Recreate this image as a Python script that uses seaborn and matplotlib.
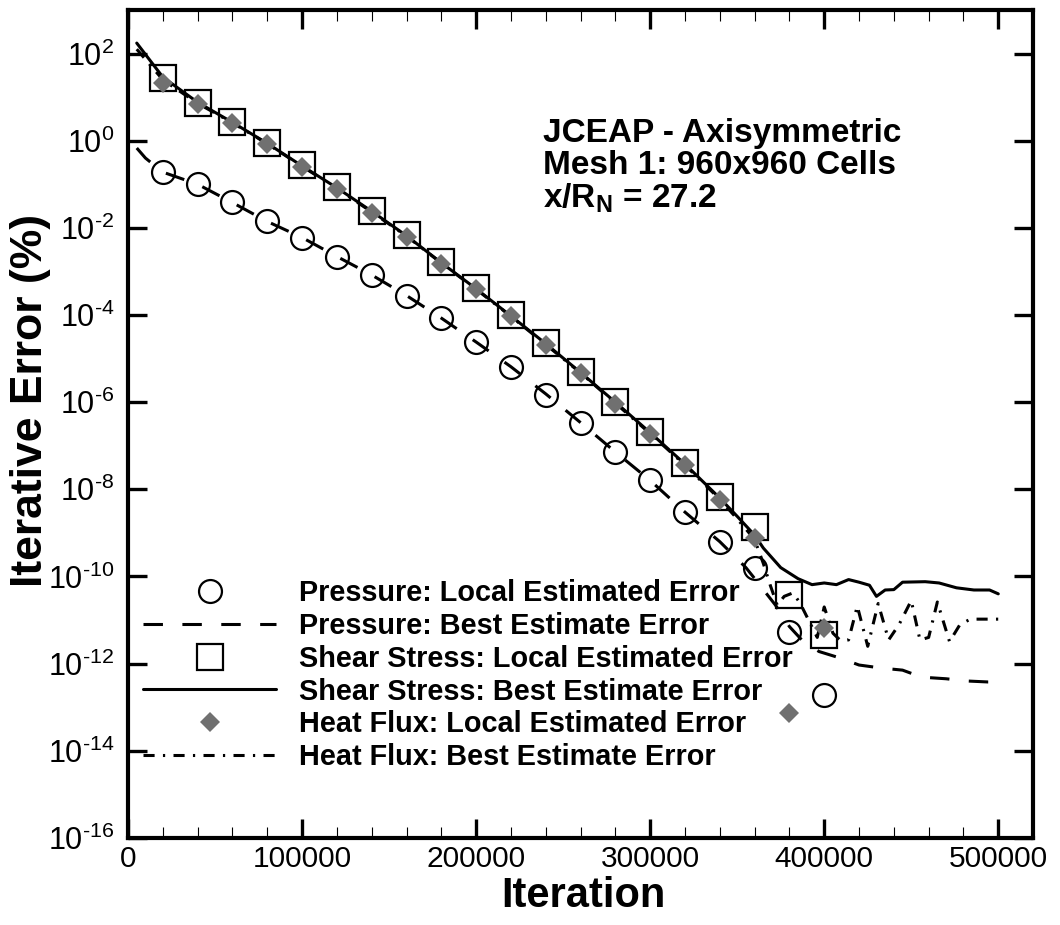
import matplotlib
matplotlib.use("Agg")
import matplotlib.pyplot as plt
import seaborn as sns
from matplotlib.ticker import FixedLocator, MultipleLocator, NullLocator

# ---------------- data ----------------
iter_local = [20000, 40000, 60000, 80000, 100000, 120000, 140000, 160000, 180000, 200000,
              220000, 240000, 260000, 280000, 300000, 320000, 340000, 360000, 380000, 400000]

pressure_local = [1.9e-1, 1.0e-1, 3.9e-2, 1.45e-2, 6.0e-3, 2.2e-3, 8.3e-4, 2.8e-4, 8.5e-5, 2.4e-5,
                  6.3e-6, 1.5e-6, 3.4e-7, 7.2e-8, 1.6e-8, 3.0e-9, 6.2e-10, 1.6e-10, 5.2e-12, 1.9e-13]

shear_local = [27.5, 7.4, 2.7, 0.89, 0.275, 0.087, 0.024, 6.9e-3, 1.66e-3, 4.2e-4,
               1.0e-4, 2.3e-5, 4.9e-6, 1.0e-6, 2.1e-7, 4.0e-8, 6.6e-9, 1.35e-9, 3.8e-11, 4.6e-12]

heat_local = [21.0, 6.9, 2.5, 0.83, 0.25, 0.079, 0.022, 6.3e-3, 1.5e-3, 4.0e-4,
              9.3e-5, 2.1e-5, 4.6e-6, 9.3e-7, 1.9e-7, 3.6e-8, 5.8e-9, 7.6e-10, 7.4e-14, 6.6e-12]

iter_p_best = [5000, 10000, 20000, 40000, 60000, 80000, 100000, 120000, 140000, 160000, 180000,
               200000, 220000, 240000, 260000, 280000, 300000, 320000, 340000, 355000, 360000,
               365000, 372000, 380000, 388000, 397000, 409000, 420000, 433000, 445000, 456000,
               470000, 482000, 494000, 500000]
pressure_best = [0.68, 0.40, 0.19, 0.10, 0.038, 0.014, 6.0e-3, 2.2e-3, 8.3e-4, 2.8e-4, 8.5e-5,
                 2.4e-5, 6.5e-6, 1.55e-6, 3.4e-7, 7.2e-8, 1.6e-8, 3.0e-9, 6.3e-10, 1.6e-10, 9.0e-11,
                 5.0e-11, 2.2e-11, 7.1e-12, 3.2e-12, 1.9e-12, 1.35e-12, 9.3e-13, 7.9e-13, 7.1e-13, 4.9e-13,
                 4.5e-13, 4.0e-13, 3.8e-13, 3.8e-13]

iter_s_best = [5000, 20000, 40000, 60000, 80000, 100000, 120000, 140000, 160000, 180000,
               200000, 220000, 240000, 260000, 280000, 300000, 320000, 340000, 350000, 360000,
               365000, 375000, 385000, 393000, 400000, 407000, 414000, 420000, 426000, 430000,
               435000, 440000, 445000, 458000, 466000, 476000, 486000, 495000, 500000]
shear_best = [174.0, 28.8, 7.6, 2.63, 0.87, 0.263, 0.083, 0.024, 6.6e-3, 1.58e-3,
              4.0e-4, 9.5e-5, 2.2e-5, 4.8e-6, 1.0e-6, 2.0e-7, 3.8e-8, 6.3e-9, 2.4e-9, 8.9e-10,
              4.5e-10, 1.6e-10, 8.9e-11, 6.5e-11, 7.1e-11, 6.5e-11, 8.5e-11, 7.4e-11, 6.3e-11, 3.5e-11,
              4.9e-11, 5.0e-11, 7.4e-11, 7.6e-11, 7.1e-11, 5.5e-11, 4.9e-11, 4.9e-11, 4.0e-11]

iter_h_best = [5000, 20000, 40000, 60000, 80000, 100000, 120000, 140000, 160000, 180000,
               200000, 220000, 240000, 260000, 280000, 300000, 320000, 340000, 350000, 360000,
               365000, 369000, 373000, 377000, 382000, 386000, 391000, 396000, 400000, 405000,
               409000, 414000, 419000, 425000, 431000, 437000, 443000, 450000, 455000, 460000,
               465000, 472000, 478000, 484000, 500000]
heat_best = [126.0, 25.0, 7.2, 2.57, 0.85, 0.257, 0.081, 0.023, 6.5e-3, 1.55e-3,
             3.9e-4, 9.3e-5, 2.1e-5, 4.7e-6, 9.5e-7, 1.9e-7, 3.6e-8, 5.9e-9, 2.1e-9, 7.1e-10,
             2.0e-10, 6.3e-11, 2.2e-11, 3.5e-11, 4.2e-11, 2.5e-11, 1.0e-11, 4.0e-12, 2.0e-11, 5.0e-12,
             3.5e-12, 3.5e-12, 2.1e-11, 2.5e-12, 2.4e-11, 3.5e-12, 7.9e-12, 2.8e-11, 3.5e-12, 4.0e-12,
             2.6e-11, 3.2e-12, 7.9e-12, 1.05e-11, 1.05e-11]

xtick_values = [0, 100000, 200000, 300000, 400000, 500000]
xtick_labels = ["0", "100000", "200000", "300000", "400000", "500000"]
ytick_exponents = [-16, -14, -12, -10, -8, -6, -4, -2, 0, 2]

labels = ["Pressure: Local Estimated Error",
          "Pressure: Best Estimate Error",
          "Shear Stress: Local Estimated Error",
          "Shear Stress: Best Estimate Error",
          "Heat Flux: Local Estimated Error",
          "Heat Flux: Best Estimate Error"]

annotation_lines = ["JCEAP - Axisymmetric", "Mesh 1: 960x960 Cells", r"x/R$_\mathbf{N}$ = 27.2"]

# ---------------- style ----------------
sns.set_style("ticks")
plt.rcParams["font.family"] = ["Liberation Sans", "DejaVu Sans"]
plt.rcParams["mathtext.fontset"] = "custom"
plt.rcParams["mathtext.rm"] = "Liberation Sans"
plt.rcParams["mathtext.bf"] = "Liberation Sans:bold"
plt.rcParams["lines.scale_dashes"] = False
for key in ["text.color", "axes.labelcolor", "xtick.color", "ytick.color", "axes.edgecolor"]:
    plt.rcParams[key] = "black"

fig = plt.figure(figsize=(10.6, 9.25), dpi=100)
ax = fig.add_axes([0.1208, 0.0941, 0.8538, 0.8951])
ax.set_yscale("log")

gray = "#707070"
lw = 2.2

# best-estimate lines
sns.lineplot(x=iter_p_best, y=pressure_best, ax=ax, color="black", linewidth=lw,
             linestyle=(0, (14, 14)), label=labels[1], estimator=None, sort=False)
sns.lineplot(x=iter_s_best, y=shear_best, ax=ax, color="black", linewidth=lw,
             linestyle="-", label=labels[3], estimator=None, sort=False)
sns.lineplot(x=iter_h_best, y=heat_best, ax=ax, color="black", linewidth=lw,
             linestyle=(0, (8, 6, 1.6, 6)), label=labels[5], estimator=None, sort=False)

# local-estimate markers
sns.lineplot(x=iter_local, y=pressure_local, ax=ax, linestyle="none", marker="o",
             markersize=16.5, markerfacecolor="none", markeredgecolor="black",
             markeredgewidth=1.6, color="black", label=labels[0], estimator=None, sort=False)
sns.lineplot(x=iter_local, y=shear_local, ax=ax, linestyle="none", marker="s",
             markersize=18.5, markerfacecolor="none", markeredgecolor="black",
             markeredgewidth=1.6, color="black", label=labels[2], estimator=None, sort=False)
sns.lineplot(x=iter_local, y=heat_local, ax=ax, linestyle="none", marker="D",
             markersize=10.5, markerfacecolor=gray, markeredgecolor=gray,
             markeredgewidth=0, color=gray, label=labels[4], estimator=None, sort=False)

# ---------------- axes ----------------
ax.set_xlim(0, 520000)
ax.set_ylim(1e-16, 1e3)

ax.xaxis.set_major_locator(FixedLocator(xtick_values))
ax.xaxis.set_minor_locator(MultipleLocator(20000))
ax.set_xticklabels(xtick_labels, fontsize=21.5)

ax.yaxis.set_major_locator(FixedLocator([10.0 ** e for e in ytick_exponents]))
ax.yaxis.set_minor_locator(NullLocator())
ax.set_yticklabels([r"$\mathregular{10^{%s}}$" % (("\u2010" + str(-e)) if e < 0 else str(e))
                    for e in ytick_exponents], fontsize=22)

ax.tick_params(axis="both", which="major", direction="in", top=True, right=True,
               length=14, width=2.4, color="black", labelcolor="black")
ax.tick_params(axis="x", which="major", pad=5)
ax.tick_params(axis="y", which="major", pad=10)
ax.tick_params(axis="x", which="minor", direction="in", top=True, bottom=True,
               length=8, width=0.8, color="black")

for sp in ax.spines.values():
    sp.set_linewidth(3.0)
    sp.set_color("black")

ax.set_xlabel("Iteration", fontsize=30, fontweight="bold", va="baseline")
ax.xaxis.set_label_coords(0.503, -0.0835)
ax.set_ylabel("Iterative Error (%)", fontsize=32, fontweight="bold", va="baseline")
ax.yaxis.set_label_coords(-0.0955, 0.528)

# annotation
for txt, yy in zip(annotation_lines, [0.8406, 0.802, 0.762]):
    ax.text(0.4586, yy, txt, transform=ax.transAxes, fontsize=24, fontweight="bold",
            ha="left", va="baseline")

# legend
handles, labs = ax.get_legend_handles_labels()
order = [labs.index(l) for l in labels]
ax.legend([handles[i] for i in order], [labs[i] for i in order],
          loc="upper left", bbox_to_anchor=(0.0166, 0.313), frameon=False,
          prop={"size": 20.8, "weight": "bold"}, handlelength=4.6, handletextpad=0.8,
          labelspacing=0.17, borderpad=0, borderaxespad=0, numpoints=1)

fig.savefig("out.png", dpi=100)
